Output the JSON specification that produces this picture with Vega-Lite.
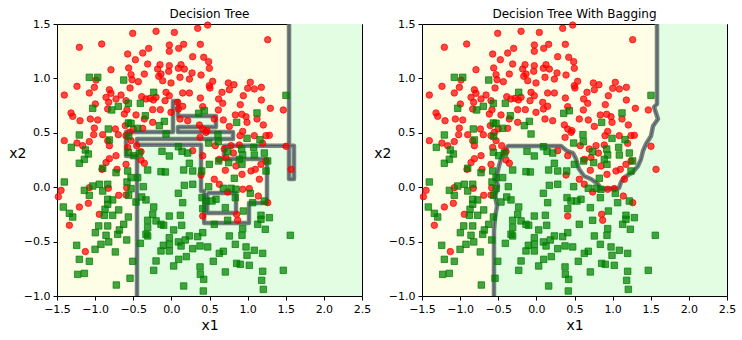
{
"$schema":"https://vega.github.io/schema/vega-lite/v6.json",
"padding":{"left":8,"top":7,"right":4,"bottom":4},
"spacing":60,
"bounds":"flush",
"config":{
 "view":{"stroke":"#000","strokeWidth":1,"fill":"#fefee7"},
 "axis":{"domain":false,"grid":false,"tickColor":"#000","tickSize":4,"tickWidth":1,"labelFont":"DejaVu Sans","labelFontSize":11,"labelColor":"#000","labelPadding":3,"titleFont":"DejaVu Sans","titleFontSize":14,"titleFontWeight":"normal","titleColor":"#000","labelFlush":false,"labelOverlap":false},
 "axisX":{"titlePadding":4},
 "title":{"font":"DejaVu Sans","fontSize":12,"fontWeight":"normal","color":"#000","offset":-3}
},
"datasets":{
"tree":[
{"g":0,"o":1,"x":-0.451,"y":-1},{"g":0,"o":2,"x":-0.451,"y":0.287},{"g":0,"o":3,"x":-0.595,"y":0.287},{"g":0,"o":4,"x":-0.595,"y":0.507},{"g":0,"o":5,"x":0.021,"y":0.507},{"g":0,"o":6,"x":0.021,"y":0.792},{"g":0,"o":7,"x":0.087,"y":0.792},{"g":0,"o":8,"x":0.087,"y":0.654},{"g":0,"o":9,"x":0.585,"y":0.654},{"g":0,"o":10,"x":0.585,"y":0.553},{"g":0,"o":11,"x":0.087,"y":0.553},{"g":0,"o":12,"x":0.087,"y":0.507},{"g":0,"o":13,"x":0.808,"y":0.507},{"g":0,"o":14,"x":0.808,"y":0.443},{"g":0,"o":15,"x":-0.451,"y":0.443},{"g":0,"o":16,"x":-0.451,"y":0.39},{"g":0,"o":17,"x":0.389,"y":0.39},{"g":0,"o":18,"x":0.389,"y":-0.035},{"g":0,"o":19,"x":0.43,"y":-0.035},{"g":0,"o":20,"x":0.43,"y":-0.329},{"g":0,"o":21,"x":1.018,"y":-0.329},{"g":0,"o":22,"x":1.018,"y":-0.145},{"g":0,"o":23,"x":1.254,"y":-0.145},{"g":0,"o":24,"x":1.254,"y":0.259},{"g":0,"o":25,"x":0.69,"y":0.259},{"g":0,"o":26,"x":0.69,"y":0.382},{"g":0,"o":27,"x":1.543,"y":0.382},{"g":0,"o":28,"x":1.543,"y":0.075},{"g":0,"o":29,"x":1.608,"y":0.075},{"g":0,"o":30,"x":1.608,"y":0.382},{"g":0,"o":31,"x":1.543,"y":0.382},{"g":0,"o":32,"x":1.543,"y":1.5},{"g":0,"o":33,"x":2.5,"y":1.5,"f":1},{"g":0,"o":34,"x":2.5,"y":-1,"f":1},
{"g":1,"o":1,"x":0.47,"y":-0.053},{"g":1,"o":2,"x":0.848,"y":-0.053},{"g":1,"o":3,"x":0.848,"y":-0.237},{"g":1,"o":4,"x":0.47,"y":-0.237},{"g":1,"o":5,"x":0.47,"y":-0.053}
],
"bag":[
{"g":0,"o":1,"x":-0.556,"y":-1},{"g":0,"o":2,"x":-0.556,"y":-0.403},{"g":0,"o":3,"x":-0.543,"y":-0.283},{"g":0,"o":4,"x":-0.516,"y":-0.173},{"g":0,"o":5,"x":-0.543,"y":-0.081},{"g":0,"o":6,"x":-0.503,"y":0.011},{"g":0,"o":7,"x":-0.53,"y":0.075},{"g":0,"o":8,"x":-0.49,"y":0.195},{"g":0,"o":9,"x":-0.464,"y":0.259},{"g":0,"o":10,"x":-0.425,"y":0.333},{"g":0,"o":11,"x":-0.372,"y":0.379},{"g":0,"o":12,"x":0.323,"y":0.379},{"g":0,"o":13,"x":0.402,"y":0.333},{"g":0,"o":14,"x":0.48,"y":0.314},{"g":0,"o":15,"x":0.52,"y":0.259},{"g":0,"o":16,"x":0.559,"y":0.167},{"g":0,"o":17,"x":0.625,"y":0.103},{"g":0,"o":18,"x":0.716,"y":0.075},{"g":0,"o":19,"x":0.808,"y":0.029},{"g":0,"o":20,"x":0.848,"y":-0.017},{"g":0,"o":21,"x":1.084,"y":-0.007},{"g":0,"o":22,"x":1.11,"y":0.048},{"g":0,"o":23,"x":1.162,"y":0.094},{"g":0,"o":24,"x":1.267,"y":0.14},{"g":0,"o":25,"x":1.333,"y":0.195},{"g":0,"o":26,"x":1.372,"y":0.259},{"g":0,"o":27,"x":1.398,"y":0.333},{"g":0,"o":28,"x":1.438,"y":0.397},{"g":0,"o":29,"x":1.503,"y":0.471},{"g":0,"o":30,"x":1.53,"y":0.562},{"g":0,"o":31,"x":1.595,"y":0.627},{"g":0,"o":32,"x":1.543,"y":0.737},{"g":0,"o":33,"x":1.582,"y":0.765},{"g":0,"o":34,"x":1.582,"y":1.5},{"g":0,"o":35,"x":2.5,"y":1.5,"f":1},{"g":0,"o":36,"x":2.5,"y":-1,"f":1}
],
"pts":[
{"x":-0.507,"y":1.414,"c":0},{"x":-0.201,"y":1.433,"c":0},{"x":0.039,"y":1.423,"c":0},{"x":0.345,"y":1.46,"c":0},{"x":-1.207,"y":1.286,"c":0},{"x":-0.914,"y":1.316,"c":0},{"x":-0.573,"y":1.224,"c":0},{"x":-0.376,"y":1.233,"c":0},{"x":-0.298,"y":1.276,"c":0},{"x":-0.027,"y":1.307,"c":0},{"x":0.161,"y":1.313,"c":0},{"x":0.38,"y":1.313,"c":0},{"x":-0.027,"y":1.249,"c":0},{"x":0.096,"y":1.276,"c":0},{"x":-0.472,"y":1.172,"c":0},{"x":-0.311,"y":1.132,"c":0},{"x":-0.149,"y":1.126,"c":0},{"x":-0.027,"y":1.117,"c":0},{"x":0.126,"y":1.126,"c":0},{"x":0.279,"y":1.2,"c":0},{"x":0.424,"y":1.194,"c":0},{"x":-0.792,"y":1.08,"c":0},{"x":-0.56,"y":1.096,"c":0},{"x":-0.529,"y":1.034,"c":0},{"x":-0.355,"y":1.04,"c":0},{"x":-0.18,"y":1.086,"c":0},{"x":-0.136,"y":1.04,"c":0},{"x":-0.035,"y":1.065,"c":0},{"x":0.092,"y":1.093,"c":0},{"x":0.17,"y":1.086,"c":0},{"x":0.271,"y":1.05,"c":0},{"x":0.389,"y":1.031,"c":0},{"x":-0.988,"y":0.985,"c":0},{"x":-0.516,"y":0.988,"c":0},{"x":-0.433,"y":0.97,"c":0},{"x":-0.166,"y":1.019,"c":0},{"x":-0.114,"y":0.979,"c":0},{"x":-0.005,"y":0.958,"c":0},{"x":0.113,"y":1.01,"c":0},{"x":0.236,"y":0.994,"c":0},{"x":-1.238,"y":0.927,"c":0},{"x":-1.076,"y":0.866,"c":0},{"x":-1.01,"y":0.918,"c":0},{"x":-0.813,"y":0.896,"c":0},{"x":-0.542,"y":0.912,"c":0},{"x":-0.792,"y":0.863,"c":0},{"x":-0.66,"y":0.847,"c":0},{"x":-0.389,"y":0.832,"c":0},{"x":-0.28,"y":0.817,"c":0},{"x":-0.201,"y":0.826,"c":0},{"x":-0.07,"y":0.872,"c":0},{"x":-0.027,"y":0.841,"c":0},{"x":0.148,"y":0.866,"c":0},{"x":0.236,"y":0.866,"c":0},{"x":0.38,"y":0.82,"c":0},{"x":-1.404,"y":0.847,"c":0},{"x":-0.857,"y":0.826,"c":0},{"x":-0.822,"y":0.78,"c":0},{"x":-0.726,"y":0.811,"c":0},{"x":-0.595,"y":0.795,"c":0},{"x":-0.333,"y":0.811,"c":0},{"x":-0.236,"y":0.802,"c":0},{"x":-0.083,"y":0.795,"c":0},{"x":0.083,"y":0.78,"c":0},{"x":0.148,"y":0.743,"c":0},{"x":0.411,"y":0.74,"c":0},{"x":-0.997,"y":0.765,"c":0},{"x":-0.835,"y":0.719,"c":0},{"x":-0.582,"y":0.713,"c":0},{"x":-0.245,"y":0.713,"c":0},{"x":-0.145,"y":0.713,"c":0},{"x":-0.005,"y":0.688,"c":0},{"x":0.092,"y":0.719,"c":0},{"x":-1.316,"y":0.682,"c":0},{"x":-1.294,"y":0.651,"c":0},{"x":-1.198,"y":0.611,"c":0},{"x":-1.063,"y":0.627,"c":0},{"x":-0.966,"y":0.618,"c":0},{"x":-0.617,"y":0.673,"c":0},{"x":-0.464,"y":0.664,"c":0},{"x":-0.355,"y":0.627,"c":0},{"x":-0.245,"y":0.596,"c":0},{"x":0.113,"y":0.627,"c":0},{"x":0.214,"y":0.611,"c":0},{"x":0.367,"y":0.572,"c":0},{"x":0.411,"y":0.535,"c":0},{"x":-1.01,"y":0.544,"c":0},{"x":-0.735,"y":0.535,"c":0},{"x":-0.604,"y":0.566,"c":0},{"x":-0.499,"y":0.535,"c":0},{"x":-0.376,"y":0.541,"c":0},{"x":-1.019,"y":0.483,"c":0},{"x":-0.901,"y":0.483,"c":0},{"x":-0.696,"y":0.483,"c":0},{"x":-0.551,"y":0.504,"c":0},{"x":-0.595,"y":0.474,"c":0},{"x":0.454,"y":0.504,"c":0},{"x":-1.404,"y":0.428,"c":0},{"x":-1.238,"y":0.406,"c":0},{"x":-1.076,"y":0.419,"c":0},{"x":-0.835,"y":0.428,"c":0},{"x":-0.529,"y":0.428,"c":0},{"x":-1.163,"y":0.382,"c":0},{"x":-0.813,"y":0.382,"c":0},{"x":-0.573,"y":0.366,"c":0},{"x":-0.455,"y":0.382,"c":0},{"x":-0.398,"y":0.327,"c":0},{"x":-0.726,"y":0.29,"c":0},{"x":0.376,"y":0.458,"c":0},{"x":0.279,"y":0.336,"c":0},{"x":0.411,"y":0.29,"c":0},
{"x":0.476,"y":1.49,"c":0},{"x":1.263,"y":1.356,"c":0},{"x":0.489,"y":1.154,"c":0},{"x":0.498,"y":1.093,"c":0},{"x":0.541,"y":0.973,"c":0},{"x":0.498,"y":0.933,"c":0},{"x":0.506,"y":0.912,"c":0},{"x":0.747,"y":0.958,"c":0},{"x":0.821,"y":0.942,"c":0},{"x":1.035,"y":0.964,"c":0},{"x":1.001,"y":0.909,"c":0},{"x":1.088,"y":0.903,"c":0},{"x":1.18,"y":0.918,"c":0},{"x":0.76,"y":0.896,"c":0},{"x":0.664,"y":0.872,"c":0},{"x":0.944,"y":0.841,"c":0},{"x":0.62,"y":0.811,"c":0},{"x":0.673,"y":0.771,"c":0},{"x":0.904,"y":0.759,"c":0},{"x":1.18,"y":0.801,"c":0},{"x":1.298,"y":0.725,"c":0},{"x":1.468,"y":0.71,"c":0},{"x":0.616,"y":0.71,"c":0},{"x":0.839,"y":0.664,"c":0},{"x":0.922,"y":0.67,"c":0},{"x":0.979,"y":0.648,"c":0},{"x":0.563,"y":0.627,"c":0},{"x":0.681,"y":0.618,"c":0},{"x":0.992,"y":0.596,"c":0},{"x":1.123,"y":0.627,"c":0},{"x":1.206,"y":0.572,"c":0},{"x":0.76,"y":0.559,"c":0},{"x":0.935,"y":0.513,"c":0},{"x":0.467,"y":0.52,"c":0},{"x":1.088,"y":0.474,"c":0},{"x":1.241,"y":0.474,"c":0},{"x":1.285,"y":0.477,"c":0},{"x":0.9,"y":0.474,"c":0},{"x":1.197,"y":0.403,"c":0},{"x":0.782,"y":0.382,"c":0},{"x":0.891,"y":0.388,"c":0},{"x":0.576,"y":0.382,"c":0},{"x":0.694,"y":0.351,"c":0},{"x":1.503,"y":0.376,"c":0},{"x":0.813,"y":0.314,"c":0},
{"x":-0.857,"y":0.226,"c":0},{"x":-0.813,"y":0.262,"c":0},{"x":-0.91,"y":0.164,"c":0},{"x":-0.713,"y":0.164,"c":0},{"x":-0.595,"y":0.21,"c":0},{"x":-0.398,"y":0.25,"c":0},{"x":-0.354,"y":0.22,"c":0},{"x":-1.076,"y":-0.004,"c":0},{"x":-0.827,"y":-0.01,"c":0},{"x":-0.586,"y":-0.004,"c":0},{"x":-1.482,"y":-0.087,"c":0},{"x":-1.089,"y":-0.148,"c":0},{"x":-0.691,"y":-0.075,"c":0},{"x":-0.595,"y":-0.071,"c":0},{"x":-1.207,"y":-0.182,"c":0},{"x":-0.945,"y":-0.249,"c":0},{"x":-1.338,"y":-0.35,"c":0},{"x":-1.128,"y":-0.592,"c":0},{"x":0.389,"y":0.112,"c":0},{"x":0.411,"y":-0.265,"c":0},{"x":-1.447,"y":-0.029,"c":0},
{"x":0.629,"y":0.256,"c":0},{"x":0.716,"y":0.272,"c":0},{"x":0.708,"y":0.155,"c":0},{"x":0.847,"y":0.195,"c":0},{"x":0.926,"y":0.118,"c":0},{"x":1.044,"y":0.149,"c":0},{"x":1.101,"y":0.164,"c":0},{"x":1.175,"y":0.21,"c":0},{"x":1.241,"y":0.241,"c":0},{"x":1.154,"y":0.073,"c":0},{"x":0.563,"y":0.073,"c":0},{"x":0.629,"y":0.027,"c":0},{"x":0.738,"y":-0.044,"c":0},{"x":0.935,"y":-0.019,"c":0},{"x":1.022,"y":-0.013,"c":0},{"x":1.14,"y":-0.081,"c":0},{"x":1.263,"y":-0.142,"c":0},{"x":0.856,"y":-0.249,"c":0},{"x":0.869,"y":-0.304,"c":0},{"x":1.569,"y":0.164,"c":0},
{"x":-1.076,"y":1.01,"c":1},{"x":-0.966,"y":1.01,"c":1},{"x":-0.625,"y":0.985,"c":1},{"x":-0.232,"y":0.872,"c":1},{"x":-0.564,"y":0.771,"c":1},{"x":-0.407,"y":0.771,"c":1},{"x":-1.032,"y":0.725,"c":1},{"x":-0.696,"y":0.743,"c":1},{"x":-0.783,"y":0.71,"c":1},{"x":-0.341,"y":0.657,"c":1},{"x":-0.092,"y":0.605,"c":1},{"x":-0.158,"y":0.566,"c":1},{"x":-0.564,"y":0.59,"c":1},{"x":-0.529,"y":0.587,"c":1},{"x":-0.442,"y":0.541,"c":1},{"x":-0.827,"y":0.535,"c":1},{"x":-0.813,"y":0.434,"c":1},{"x":-0.56,"y":0.468,"c":1},{"x":-1.207,"y":0.48,"c":1},{"x":-1.312,"y":0.366,"c":1},{"x":-1.128,"y":0.342,"c":1},{"x":-1.089,"y":0.305,"c":1},{"x":-0.07,"y":0.489,"c":1},{"x":0.092,"y":0.372,"c":1},{"x":0.14,"y":0.33,"c":1},{"x":0.214,"y":0.314,"c":1},{"x":-0.123,"y":0.33,"c":1},{"x":-0.42,"y":0.314,"c":1},{"x":0.358,"y":0.679,"c":1},{"x":0.432,"y":0.703,"c":1},{"x":-0.494,"y":0.29,"c":1},{"x":-0.564,"y":0.321,"c":1},
{"x":1.503,"y":0.844,"c":1},{"x":1.123,"y":0.682,"c":1},{"x":0.856,"y":0.596,"c":1},{"x":0.611,"y":0.483,"c":1},{"x":0.992,"y":0.449,"c":1},{"x":1.162,"y":0.437,"c":1},{"x":0.616,"y":0.418,"c":1},{"x":0.489,"y":0.406,"c":1},{"x":1.079,"y":0.366,"c":1},{"x":0.738,"y":0.327,"c":1},{"x":0.922,"y":0.351,"c":1},{"x":0.935,"y":0.296,"c":1},{"x":1.088,"y":0.296,"c":1},{"x":1.219,"y":0.314,"c":1},
{"x":-1.207,"y":0.22,"c":1},{"x":-1.141,"y":0.256,"c":1},{"x":-0.901,"y":0.174,"c":1},{"x":-0.726,"y":0.134,"c":1},{"x":-0.573,"y":0.149,"c":1},{"x":-0.529,"y":0.088,"c":1},{"x":-0.442,"y":0.088,"c":1},{"x":-0.311,"y":0.158,"c":1},{"x":-0.136,"y":0.143,"c":1},{"x":-0.079,"y":0.14,"c":1},{"x":-0.027,"y":0.287,"c":1},{"x":0.161,"y":0.158,"c":1},{"x":0.236,"y":0.22,"c":1},{"x":0.28,"y":0.149,"c":1},{"x":0.398,"y":0.149,"c":1},{"x":-1.404,"y":0.048,"c":1},{"x":-1.141,"y":-0.029,"c":1},{"x":-1.032,"y":0.011,"c":1},{"x":-0.945,"y":0.027,"c":1},{"x":-0.901,"y":-0.035,"c":1},{"x":-0.835,"y":0.027,"c":1},{"x":-0.582,"y":0.048,"c":1},{"x":-0.529,"y":-0.013,"c":1},{"x":-0.368,"y":0.005,"c":1},{"x":-1.076,"y":-0.075,"c":1},{"x":-0.835,"y":-0.111,"c":1},{"x":-0.77,"y":-0.117,"c":1},{"x":-0.835,"y":-0.157,"c":1},{"x":-0.56,"y":-0.075,"c":1},{"x":-0.464,"y":-0.136,"c":1},{"x":-0.389,"y":-0.09,"c":1},{"x":-0.333,"y":-0.117,"c":1},{"x":-0.691,"y":-0.209,"c":1},{"x":-0.87,"y":-0.203,"c":1},{"x":-1.417,"y":-0.182,"c":1},{"x":-1.338,"y":-0.24,"c":1},{"x":-1.294,"y":-0.274,"c":1},{"x":-0.879,"y":-0.258,"c":1},{"x":-0.77,"y":-0.258,"c":1},{"x":-0.564,"y":-0.274,"c":1},{"x":-0.232,"y":-0.182,"c":1},{"x":-0.245,"y":-0.249,"c":1},{"x":-0.311,"y":-0.304,"c":1},{"x":-0.201,"y":-0.31,"c":1},{"x":-0.136,"y":-0.341,"c":1},{"x":-0.027,"y":-0.265,"c":1},{"x":0.118,"y":-0.258,"c":1},{"x":0.411,"y":-0.197,"c":1},{"x":0.148,"y":-0.142,"c":1},{"x":0.17,"y":0.017,"c":1},{"x":0.28,"y":0.027,"c":1},{"x":0.092,"y":-0.056,"c":1},{"x":0.402,"y":-0.096,"c":1},{"x":-0.953,"y":-0.356,"c":1},{"x":-0.835,"y":-0.356,"c":1},{"x":-0.997,"y":-0.418,"c":1},{"x":-0.857,"y":-0.442,"c":1},{"x":-0.682,"y":-0.393,"c":1},{"x":-0.704,"y":-0.433,"c":1},{"x":-0.625,"y":-0.341,"c":1},{"x":-0.586,"y":-0.485,"c":1},{"x":-0.923,"y":-0.525,"c":1},{"x":-0.822,"y":-0.503,"c":1},{"x":-1.242,"y":-0.534,"c":1},{"x":-1.001,"y":-0.571,"c":1},{"x":-0.735,"y":-0.595,"c":1},{"x":-1.207,"y":-0.663,"c":1},{"x":-1.076,"y":-0.681,"c":1},{"x":-1.229,"y":-0.801,"c":1},{"x":-1.141,"y":-0.792,"c":1},{"x":-0.507,"y":-0.681,"c":1},{"x":-0.407,"y":-0.516,"c":1},{"x":-0.311,"y":-0.372,"c":1},{"x":-0.311,"y":-0.448,"c":1},{"x":-0.027,"y":-0.464,"c":1},{"x":-0.105,"y":-0.534,"c":1},{"x":-0.027,"y":-0.525,"c":1},{"x":-0.027,"y":-0.586,"c":1},{"x":-0.136,"y":-0.586,"c":1},{"x":0.03,"y":-0.393,"c":1},{"x":0.135,"y":-0.35,"c":1},{"x":0.092,"y":-0.503,"c":1},{"x":0.183,"y":-0.485,"c":1},{"x":0.127,"y":-0.54,"c":1},{"x":0.28,"y":-0.565,"c":1},{"x":0.236,"y":-0.448,"c":1},{"x":0.345,"y":-0.454,"c":1},{"x":0.411,"y":-0.418,"c":1},{"x":0.376,"y":-0.54,"c":1},{"x":-0.201,"y":-0.678,"c":1},{"x":0.03,"y":-0.724,"c":1},{"x":0.096,"y":-0.663,"c":1},{"x":-0.232,"y":-0.764,"c":1},{"x":0.376,"y":-0.733,"c":1},{"x":0.38,"y":-0.801,"c":1},{"x":0.424,"y":-0.847,"c":1},{"x":0.196,"y":-0.638,"c":1},{"x":-0.722,"y":-0.899,"c":1},{"x":-0.542,"y":-0.837,"c":1},{"x":0.161,"y":-0.908,"c":1},{"x":0.419,"y":-0.954,"c":1},{"x":-0.333,"y":-0.433,"c":1},{"x":-0.101,"y":-0.35,"c":1},
{"x":0.498,"y":0.21,"c":1},{"x":0.62,"y":0.241,"c":1},{"x":0.751,"y":0.226,"c":1},{"x":0.891,"y":0.256,"c":1},{"x":0.926,"y":0.21,"c":1},{"x":1.263,"y":0.241,"c":1},{"x":1.241,"y":0.149,"c":1},{"x":0.826,"y":0.082,"c":1},{"x":0.489,"y":0.005,"c":1},{"x":0.681,"y":-0.01,"c":1},{"x":0.782,"y":-0.01,"c":1},{"x":0.847,"y":-0.019,"c":1},{"x":0.839,"y":-0.096,"c":1},{"x":1.035,"y":-0.056,"c":1},{"x":0.454,"y":-0.127,"c":1},{"x":0.533,"y":-0.127,"c":1},{"x":0.585,"y":-0.111,"c":1},{"x":0.708,"y":-0.188,"c":1},{"x":1.066,"y":-0.142,"c":1},{"x":1.219,"y":-0.127,"c":1},{"x":0.944,"y":-0.219,"c":1},{"x":1.175,"y":-0.258,"c":1},{"x":1.175,"y":-0.295,"c":1},{"x":1.285,"y":-0.28,"c":1},{"x":1.132,"y":-0.341,"c":1},{"x":1.232,"y":-0.387,"c":1},{"x":0.738,"y":-0.304,"c":1},{"x":0.563,"y":-0.341,"c":1},{"x":0.935,"y":-0.381,"c":1},{"x":0.926,"y":-0.442,"c":1},{"x":0.76,"y":-0.448,"c":1},{"x":1.56,"y":-0.442,"c":1},{"x":0.839,"y":-0.525,"c":1},{"x":0.979,"y":-0.549,"c":1},{"x":1.088,"y":-0.58,"c":1},{"x":1.197,"y":-0.608,"c":1},{"x":0.629,"y":-0.608,"c":1},{"x":0.681,"y":-0.589,"c":1},{"x":0.55,"y":-0.681,"c":1},{"x":0.856,"y":-0.7,"c":1},{"x":0.904,"y":-0.709,"c":1},{"x":1.022,"y":-0.718,"c":1},{"x":0.992,"y":-0.626,"c":1},{"x":0.708,"y":-0.779,"c":1},{"x":1.197,"y":-0.773,"c":1},{"x":1.468,"y":-0.764,"c":1},{"x":1.184,"y":-0.856,"c":1},{"x":1.206,"y":-0.939,"c":1},{"x":0.476,"y":-0.549,"c":1}
]
},
"hconcat":[
{
 "width":305,"height":272,
 "title":{"text":"Decision Tree"},
 "encoding":{
  "x":{"field":"x","type":"quantitative","scale":{"domain":[-1.5,2.5],"nice":false,"zero":false},"axis":{"title":"x1","values":[-1.5,-1,-0.5,0,0.5,1,1.5,2,2.5],"format":".1f"}},
  "y":{"field":"y","type":"quantitative","scale":{"domain":[-1,1.5],"nice":false,"zero":false},"axis":{"title":"x2","values":[-1,-0.5,0,0.5,1,1.5],"format":".1f","titleAngle":0,"titleX":-31,"titleY":129,"titleAlign":"right","titleBaseline":"middle"}}
 },
 "layer":[
  {"data":{"name":"tree"},"mark":{"type":"line","fill":"#e2fde2","strokeOpacity":0,"clip":true},"encoding":{"order":{"field":"o","type":"quantitative"},"detail":{"field":"g","type":"nominal"}}},
  {"data":{"name":"tree"},"transform":[{"filter":"datum.f != 1"}],"mark":{"type":"line","stroke":"#627262","strokeWidth":4.5,"opacity":0.85,"strokeJoin":"round","clip":true},"encoding":{"order":{"field":"o","type":"quantitative"},"detail":{"field":"g","type":"nominal"}}},
  {"data":{"name":"tree"},"transform":[{"filter":"datum.f != 1"}],"mark":{"type":"line","stroke":"#4c4c7f","strokeWidth":1.2,"opacity":0.8,"strokeJoin":"round","clip":true},"encoding":{"order":{"field":"o","type":"quantitative"},"detail":{"field":"g","type":"nominal"}}},
  {"data":{"name":"pts"},"mark":{"type":"point","filled":true,"size":42,"fillOpacity":0.72,"strokeOpacity":0.72,"strokeWidth":1},
   "encoding":{"shape":{"field":"c","type":"nominal","scale":{"domain":[0,1],"range":["circle","square"]},"legend":null},
    "color":{"field":"c","type":"nominal","scale":{"domain":[0,1],"range":["#ff0000","#008000"]},"legend":null},
    "stroke":{"field":"c","type":"nominal","scale":{"domain":[0,1],"range":["#ff0000","#008000"]},"legend":null}}}
 ]
},
{
 "width":305,"height":272,
 "title":{"text":"Decision Tree With Bagging"},
 "encoding":{
  "x":{"field":"x","type":"quantitative","scale":{"domain":[-1.5,2.5],"nice":false,"zero":false},"axis":{"title":"x1","values":[-1.5,-1,-0.5,0,0.5,1,1.5,2,2.5],"format":".1f"}},
  "y":{"field":"y","type":"quantitative","scale":{"domain":[-1,1.5],"nice":false,"zero":false},"axis":{"title":"x2","values":[-1,-0.5,0,0.5,1,1.5],"format":".1f","titleAngle":0,"titleX":-31,"titleY":129,"titleAlign":"right","titleBaseline":"middle"}}
 },
 "layer":[
  {"data":{"name":"bag"},"mark":{"type":"line","fill":"#e2fde2","strokeOpacity":0,"clip":true},"encoding":{"order":{"field":"o","type":"quantitative"},"detail":{"field":"g","type":"nominal"}}},
  {"data":{"name":"bag"},"transform":[{"filter":"datum.f != 1"}],"mark":{"type":"line","stroke":"#627262","strokeWidth":4.5,"opacity":0.85,"strokeJoin":"round","clip":true},"encoding":{"order":{"field":"o","type":"quantitative"},"detail":{"field":"g","type":"nominal"}}},
  {"data":{"name":"bag"},"transform":[{"filter":"datum.f != 1"}],"mark":{"type":"line","stroke":"#4c4c7f","strokeWidth":1.2,"opacity":0.8,"strokeJoin":"round","clip":true},"encoding":{"order":{"field":"o","type":"quantitative"},"detail":{"field":"g","type":"nominal"}}},
  {"data":{"name":"pts"},"mark":{"type":"point","filled":true,"size":42,"fillOpacity":0.72,"strokeOpacity":0.72,"strokeWidth":1},
   "encoding":{"shape":{"field":"c","type":"nominal","scale":{"domain":[0,1],"range":["circle","square"]},"legend":null},
    "color":{"field":"c","type":"nominal","scale":{"domain":[0,1],"range":["#ff0000","#008000"]},"legend":null},
    "stroke":{"field":"c","type":"nominal","scale":{"domain":[0,1],"range":["#ff0000","#008000"]},"legend":null}}}
 ]
}
]
}
